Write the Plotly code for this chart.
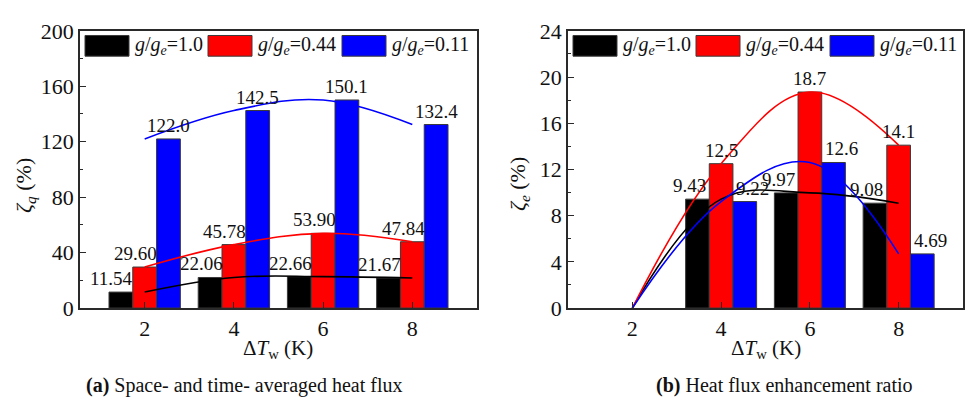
import plotly.graph_objects as go

# ---------------- data ----------------
dT = [2, 4, 6, 8]

# (a) space- and time-averaged heat flux, zeta_q (%)
zq_g100 = [11.54, 22.06, 22.66, 21.67]
zq_g044 = [29.60, 45.78, 53.90, 47.84]
zq_g011 = [122.0, 142.5, 150.1, 132.4]
zq_lbl_g100 = ["11.54", "22.06", "22.66", "21.67"]
zq_lbl_g044 = ["29.60", "45.78", "53.90", "47.84"]
zq_lbl_g011 = ["122.0", "142.5", "150.1", "132.4"]

# (b) heat flux enhancement ratio, zeta_e (%)
ze_g100 = [0, 9.43, 9.97, 9.08]
ze_g044 = [0, 12.5, 18.7, 14.1]
ze_g011 = [0, 9.22, 12.6, 4.69]
ze_lbl_g100 = ["", "9.43", "9.97", "9.08"]
ze_lbl_g044 = ["", "12.5", "18.7", "14.1"]
ze_lbl_g011 = ["", "9.22", "12.6", "4.69"]

series_names = ["<i>g</i>/<i>g</i><sub><i>e</i></sub>=1.0",
                "<i>g</i>/<i>g</i><sub><i>e</i></sub>=0.44",
                "<i>g</i>/<i>g</i><sub><i>e</i></sub>=0.11"]
colors = ["#000000", "#FF0000", "#0000FF"]

yticks_a = [0, 40, 80, 120, 160, 200]
yticks_b = [0, 4, 8, 12, 16, 20, 24]

# ---------------- layout helpers ----------------
W, H = 966, 416
FONT = "Liberation Serif, Times New Roman, serif"
TXT = "#111111"
AX = "#2a2a2a"

def px(x):
    return x / W

def py(y):
    return 1 - y / H

frame_a = (80, 477)
frame_b = (568, 963)
ytop, ybot = 20, 315
xrange_ = [0.55, 9.45]
bargap = 0.2
barw = (1 - bargap) * 2 / 3  # data-units width of one bar

fig = go.Figure()

sets = [
    ("x", "y", dT, [zq_g100, zq_g044, zq_g011], [zq_lbl_g100, zq_lbl_g044, zq_lbl_g011], [-9, -9, 0]),
    ("x2", "y2", dT, [ze_g100, ze_g044, ze_g011], [ze_lbl_g100, ze_lbl_g044, ze_lbl_g011], [-8, 0, 8]),
]

annotations = []
for xa, ya, xs, ys_list, lbls_list, shifts in sets:
    for k, (ys, lbls) in enumerate(zip(ys_list, lbls_list)):
        bx = [x for x, v in zip(xs, ys) if v > 0]
        by = [v for v in ys if v > 0]
        fig.add_trace(go.Bar(
            x=bx, y=by, xaxis=xa, yaxis=ya, name=series_names[k],
            marker=dict(color=colors[k], line=dict(color="#3a3a3a", width=1)),
            showlegend=False,
        ))
        for x, v, t in zip(xs, ys, lbls):
            if not t:
                continue
            annotations.append(dict(
                x=x + (k - 1) * barw, y=v, xref=xa, yref=ya, text=t,
                showarrow=False, xanchor="center", yanchor="bottom",
                xshift=shifts[k], yshift=1,
                font=dict(family=FONT, size=19, color=TXT),
            ))
    for k, ys in enumerate(ys_list):
        fig.add_trace(go.Scatter(
            x=xs, y=ys, xaxis=xa, yaxis=ya, mode="lines",
            line=dict(color=colors[k], width=1.6, shape="spline", smoothing=1.1),
            showlegend=False, hoverinfo="skip",
        ))

axis_common = dict(
    showline=True, linecolor=AX, linewidth=1.5, mirror=True,
    ticks="inside", ticklen=6, tickwidth=1.2, tickcolor=AX,
    showgrid=False, zeroline=False,
    tickfont=dict(family=FONT, size=22, color=TXT),
)

fig.update_layout(
    width=W, height=H,
    margin=dict(l=0, r=0, t=0, b=0),
    paper_bgcolor="white", plot_bgcolor="white",
    barmode="group", bargap=bargap, bargroupgap=0,
    xaxis=dict(domain=[px(frame_a[0]), px(frame_a[1])], range=xrange_, anchor="y",
               tickvals=dT, **axis_common),
    yaxis=dict(domain=[py(ybot), py(ytop)], range=[0, 200], anchor="x",
               tickvals=yticks_a,
               minor=dict(ticks="inside", ticklen=3, dtick=20, tickcolor=AX),
               **axis_common),
    xaxis2=dict(domain=[px(frame_b[0]), px(frame_b[1])], range=xrange_, anchor="y2",
                tickvals=dT, **axis_common),
    yaxis2=dict(domain=[py(ybot), py(ytop)], range=[0, 24], anchor="x2",
                tickvals=yticks_b,
                minor=dict(ticks="inside", ticklen=3, dtick=2, tickcolor=AX),
                **axis_common),
)

# ---------------- custom legends (large swatches) ----------------
shapes = []
for fl in (frame_a[0], frame_b[0]):
    offs = [5, 128, 262]
    for k in range(3):
        x0 = fl + offs[k]
        shapes.append(dict(type="rect", xref="paper", yref="paper",
                           x0=px(x0), x1=px(x0 + 44), y0=py(47), y1=py(25),
                           fillcolor=colors[k], line=dict(color="#3a3a3a", width=1)))
        annotations.append(dict(x=px(x0 + 48), y=py(36), xref="paper", yref="paper",
                                text=series_names[k], showarrow=False,
                                xanchor="left", yanchor="middle",
                                font=dict(family=FONT, size=20, color=TXT)))

# axis titles and captions
annotations += [
    dict(x=px(25), y=py(185), xref="paper", yref="paper", textangle=-90,
         text="<i>ζ</i><sub><i>q</i></sub> (%)", showarrow=False,
         xanchor="center", yanchor="middle",
         font=dict(family=FONT, size=22, color=TXT)),
    dict(x=px(519), y=py(183), xref="paper", yref="paper", textangle=-90,
         text="<i>ζ</i><sub><i>e</i></sub> (%)", showarrow=False,
         xanchor="center", yanchor="middle",
         font=dict(family=FONT, size=22, color=TXT)),
    dict(x=px(278), y=py(359), xref="paper", yref="paper",
         text="Δ<i>T</i><sub>w</sub> (K)", showarrow=False,
         xanchor="center", yanchor="middle",
         font=dict(family=FONT, size=21, color=TXT)),
    dict(x=px(766), y=py(359), xref="paper", yref="paper",
         text="Δ<i>T</i><sub>w</sub> (K)", showarrow=False,
         xanchor="center", yanchor="middle",
         font=dict(family=FONT, size=21, color=TXT)),
    dict(x=px(244), y=py(397), xref="paper", yref="paper",
         text="<b>(a)</b> Space- and time- averaged heat flux", showarrow=False,
         xanchor="center", yanchor="middle",
         font=dict(family=FONT, size=20, color=TXT)),
    dict(x=px(784), y=py(397), xref="paper", yref="paper",
         text="<b>(b)</b> Heat flux enhancement ratio", showarrow=False,
         xanchor="center", yanchor="middle",
         font=dict(family=FONT, size=20, color=TXT)),
]

fig.update_layout(shapes=shapes, annotations=annotations)
fig.write_html("out.html", config={"displayModeBar": False},
               post_script="document.body.style.margin='0';document.body.style.overflow='hidden';")
